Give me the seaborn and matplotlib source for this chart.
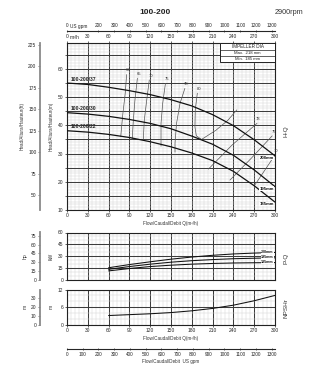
import numpy as np
import pandas as pd
import matplotlib
matplotlib.use("Agg")
import matplotlib.pyplot as plt
import matplotlib.transforms as mtrans
from matplotlib.patches import Rectangle
from matplotlib.ticker import MultipleLocator, FuncFormatter
import seaborn as sns

# ---------------- data ----------------
Q_H = [0, 30, 60, 90, 120, 150, 180, 210, 240, 270, 300]
H_208 = [55.0, 54.5, 53.5, 52.3, 50.9, 49.1, 46.9, 43.8, 39.9, 34.9, 29.2]
H_195 = [44.5, 44.0, 43.2, 42.1, 40.7, 38.8, 36.2, 33.3, 29.4, 24.2, 18.3]
H_185 = [38.1, 37.6, 36.8, 35.7, 34.2, 32.4, 30.2, 27.5, 23.7, 18.6, 12.8]
model_labels = ["100-200/37", "100-200/30", "100-200/22"]
dia_labels = ["208mm", "195mm", "185mm"]

# iso-efficiency lines (Q, H), first point = labelled end
eff_names = ["60", "65", "70", "75", "78", "80", "78", "75", "70"]
eff_Q = [
    [86, 84, 80.5, 77.5],
    [101.5, 98, 95.7, 94],
    [118.7, 115, 111.5, 110],
    [142, 138, 135.6, 135.6],
    [170, 163, 158, 155.8, 155.8],
    [188, 185, 184.5, 186.5, 194, 215, 232, 245],
    [274, 238, 204],
    [296, 266, 235],
    [300, 285, 271],
]
eff_H = [
    [58, 51.4, 44, 36],
    [56.7, 49, 41.9, 35],
    [56.1, 49, 41.9, 34.8],
    [54.9, 47.8, 40.7, 32.6],
    [53.1, 47.8, 40.7, 33.7, 30.5],
    [51.4, 45.5, 39.5, 36.3, 35, 38.3, 41.8, 45.5],
    [40.7, 33, 24.5],
    [36.3, 28.4, 20.6],
    [29.5, 24.0, 18.9],
]

Q_P = [60, 90, 120, 150, 180, 210, 240, 270, 300]
P_208 = [15.5, 19.5, 23.0, 26.3, 29.0, 31.2, 32.9, 34.0, 34.8]
P_195 = [13.5, 17.0, 20.0, 22.5, 24.4, 25.8, 26.9, 27.5, 28.0]
P_185 = [11.5, 14.5, 17.0, 18.7, 20.0, 20.9, 21.5, 21.8, 22.0]

Q_N = [60, 90, 120, 150, 180, 210, 240, 270, 300]
NPSH = [3.2, 3.5, 3.8, 4.2, 4.8, 5.6, 6.7, 8.2, 10.0]

gpm_top_ticks = [0, 200, 300, 400, 500, 600, 700, 800, 900, 1000, 1100, 1200, 1300]
gpm_bot_ticks = list(range(0, 1301, 100))
ft_ticks = [50, 75, 100, 125, 150, 175, 200, 225]
hp_ticks = [0, 15, 30, 45, 60, 75]
npsh_ft_ticks = [0, 10, 20, 30]

# ---------------- style ----------------
sns.set_style("ticks")
plt.rcParams['font.family'] = ['Liberation Sans', 'DejaVu Sans']
plt.rcParams['axes.linewidth'] = 0.8

def q2g(q): return np.asarray(q, dtype=float) / 0.2271
def g2q(g): return np.asarray(g, dtype=float) * 0.2271
def m2ft(m): return np.asarray(m, dtype=float) * 3.2808
def ft2m(f): return np.asarray(f, dtype=float) / 3.2808
def kw2hp(k): return np.asarray(k, dtype=float) / 0.7457
def hp2kw(h): return np.asarray(h, dtype=float) * 0.7457

W, Hpx = 328, 391
fig = plt.figure(figsize=(3.28, 3.91), dpi=100, facecolor='white')
L, R = 67, 275
def axrect(top, bottom):
    return [L / W, 1 - bottom / Hpx, (R - L) / W, (bottom - top) / Hpx]

ax_h = fig.add_axes(axrect(42.7, 210))
ax_p = fig.add_axes(axrect(232.5, 280))
ax_n = fig.add_axes(axrect(289.5, 325))

TS = 3.5
GS = 3.4
MAJ = '#3c3c3c'
MIN = '#d4d4d4'

def style_grid(ax, xmaj, xmin, ymaj, ymin):
    ax.set_xlim(0, 300)
    ax.xaxis.set_major_locator(MultipleLocator(xmaj))
    ax.xaxis.set_minor_locator(MultipleLocator(xmin))
    ax.yaxis.set_major_locator(MultipleLocator(ymaj))
    ax.yaxis.set_minor_locator(MultipleLocator(ymin))
    ax.grid(which='minor', color=MIN, lw=0.35, zorder=0)
    ax.grid(which='major', color=MAJ, lw=0.75, zorder=0)
    ax.set_axisbelow(True)
    ax.tick_params(which='minor', length=0)
    ax.tick_params(which='major', labelsize=TS, length=1.5, width=0.5, pad=1)
    for s in ax.spines.values():
        s.set_color('#222')
        s.set_linewidth(0.8)

# ---------------- H-Q ----------------
style_grid(ax_h, 30, 6, 5, 1)
ax_h.set_ylim(10, 69.3)
ax_h.yaxis.set_major_formatter(FuncFormatter(lambda v, p: f"{v:.0f}" if abs(v % 10) < 1e-6 else ""))
ax_h.tick_params(axis='x', top=True, labeltop=True)
for Hs in (H_208, H_195, H_185):
    sns.lineplot(x=Q_H, y=Hs, ax=ax_h, color='#111', lw=0.9, estimator=None, sort=False, zorder=4)
for Hs, lab in zip((H_208, H_195, H_185), model_labels):
    ax_h.annotate(lab, (Q_H[0], Hs[0]), xytext=(3, 1), textcoords='offset points',
                  fontsize=3.6, fontweight='bold', color='#222', va='bottom', ha='left', zorder=6)
for Hs, lab in zip((H_208, H_195, H_185), dia_labels):
    ax_h.annotate(lab, (Q_H[-1], Hs[-1]), xytext=(-1, -1.5), textcoords='offset points',
                  fontsize=3.1, fontweight='bold', color='#111', va='center', ha='right', zorder=6,
                  bbox=dict(boxstyle='square,pad=0.05', fc='white', ec='none'))
for qs, hs, nm in zip(eff_Q, eff_H, eff_names):
    sns.lineplot(x=qs, y=hs, ax=ax_h, color='#555', lw=0.5, estimator=None, sort=False, zorder=3)
    ax_h.annotate(nm, (qs[0], hs[0]), xytext=(1, 1.5), textcoords='offset points',
                  fontsize=3.0, color='#333', va='bottom', ha='center', zorder=6)
ax_h.set_ylabel('Head/Altura/Hauteur(m)', fontsize=3.3, labelpad=3, color='#333')
ax_h.set_xlabel('Flow/Caudal/Debit Q(m³/h)', fontsize=3.3, labelpad=2, color='#333')

# impeller box
bt = mtrans.blended_transform_factory(ax_h.transData, ax_h.transAxes)
box_x0 = 220.7
ax_h.add_patch(Rectangle((box_x0, 62.4), 300 - box_x0, 69.3 - 62.4, fc='white', ec='#222', lw=0.7, zorder=5))
for yy in (66.7, 64.6):
    ax_h.plot([box_x0, 300], [yy, yy], color='#222', lw=0.5, zorder=6)
xc = (box_x0 + 300) / 2
ax_h.text(xc, 68.0, 'IMPELLER DIA', fontsize=3.3, ha='center', va='center', zorder=7, color='#222')
ax_h.text(xc, 65.65, 'Max.  218 mm', fontsize=3.1, ha='center', va='center', zorder=7, color='#222')
ax_h.text(xc, 63.5, 'Min.  185 mm', fontsize=3.1, ha='center', va='center', zorder=7, color='#222')

# top m3/h extra label
ax_h.text(11.5, 1.03, 'm³/h', transform=bt, fontsize=TS, ha='center', va='center', color='#222')

# top US gpm axis
sec_top = ax_h.secondary_xaxis(1.072, functions=(q2g, g2q))
sec_top.set_xticks(gpm_top_ticks, labels=[str(t) for t in gpm_top_ticks])
sec_top.tick_params(labelsize=GS, length=2, width=0.5, direction='inout', pad=0.8)
sec_top.spines['top'].set_linewidth(0.8)
ax_h.text(17.3, 1.096, 'US gpm', transform=bt, fontsize=GS, ha='center', va='center', color='#222')

# ft axis
ft = ax_h.secondary_yaxis(-0.13, functions=(m2ft, ft2m))
ft.set_yticks(ft_ticks, labels=[str(t) for t in ft_ticks])
ft.spines['left'].set_color('#8a8a8a')
ft.spines['left'].set_linewidth(1.3)
ft.tick_params(labelsize=TS, length=1.5, width=0.5, pad=1, color='#555')
ft.set_ylabel('Head/Altura/Hauteur(ft)', fontsize=3.3, labelpad=2.5, color='#333')

# ---------------- P-Q ----------------
style_grid(ax_p, 30, 6, 15, 5)
ax_p.set_ylim(0, 60)
ax_p.tick_params(axis='x', labelbottom=False, length=0)
for Ps, lab in zip((P_208, P_195, P_185), dia_labels):
    sns.lineplot(x=Q_P, y=Ps, ax=ax_p, color='#111', lw=0.75, estimator=None, sort=False, zorder=4)
    ax_p.annotate(lab, (Q_P[-1], Ps[-1]), xytext=(-1, 0.3), textcoords='offset points',
                  fontsize=2.6, fontweight='bold', color='#111', va='center', ha='right', zorder=6,
                  bbox=dict(boxstyle='square,pad=0.03', fc='white', ec='none'))
ax_p.set_ylabel('kW', fontsize=3.6, labelpad=3, color='#333')
hp = ax_p.secondary_yaxis(-0.13, functions=(kw2hp, hp2kw))
hp.set_yticks(hp_ticks, labels=[str(t) for t in hp_ticks])
hp.spines['left'].set_color('#8a8a8a')
hp.spines['left'].set_linewidth(1.3)
hp.tick_params(labelsize=TS, length=1.5, width=0.5, pad=1, color='#555')
hp.set_ylabel('hp', fontsize=3.6, labelpad=2.5, color='#333')

# ---------------- NPSHr ----------------
style_grid(ax_n, 30, 6, 6, 2)
ax_n.set_ylim(0, 12)
sns.lineplot(x=Q_N, y=NPSH, ax=ax_n, color='#111', lw=0.75, estimator=None, sort=False, zorder=4)
ax_n.set_ylabel('m', fontsize=3.6, labelpad=3, color='#333')
ax_n.set_xlabel('Flow/Caudal/Debit Q(m³/h)', fontsize=3.3, labelpad=1.5, color='#333')
nft = ax_n.secondary_yaxis(-0.13, functions=(m2ft, ft2m))
nft.set_yticks(npsh_ft_ticks, labels=[str(t) for t in npsh_ft_ticks])
nft.spines['left'].set_color('#8a8a8a')
nft.spines['left'].set_linewidth(1.3)
nft.tick_params(labelsize=TS, length=1.5, width=0.5, pad=1, color='#555')
nft.set_ylabel('m', fontsize=3.6, labelpad=2.5, color='#333')

sec_bot = ax_n.secondary_xaxis(-0.685, functions=(q2g, g2q))
sec_bot.set_xticks(gpm_bot_ticks, labels=[str(t) for t in gpm_bot_ticks])
sec_bot.tick_params(labelsize=GS, length=2, width=0.5, direction='inout', pad=1)
sec_bot.spines['bottom'].set_linewidth(0.8)
sec_bot.set_xlabel('Flow/Caudal/Debit  US gpm', fontsize=3.3, labelpad=1.5, color='#333')

# ---------------- figure texts ----------------
fig.text(155 / W, 1 - 12 / Hpx, '100-200', fontsize=6, fontweight='bold', ha='center', va='center', color='#222')
fig.text(289 / W, 1 - 12 / Hpx, '2900rpm', fontsize=5.2, ha='center', va='center', color='#333')
fig.text(286 / W, 1 - 131 / Hpx, 'H-Q', fontsize=4.6, rotation=90, ha='center', va='center', color='#333')
fig.text(286 / W, 1 - 258 / Hpx, 'P-Q', fontsize=4.6, rotation=90, ha='center', va='center', color='#333')
fig.text(286 / W, 1 - 308 / Hpx, 'NPSHr', fontsize=4.6, rotation=90, ha='center', va='center', color='#333')

fig.savefig('out.png', dpi=100, facecolor='white')
